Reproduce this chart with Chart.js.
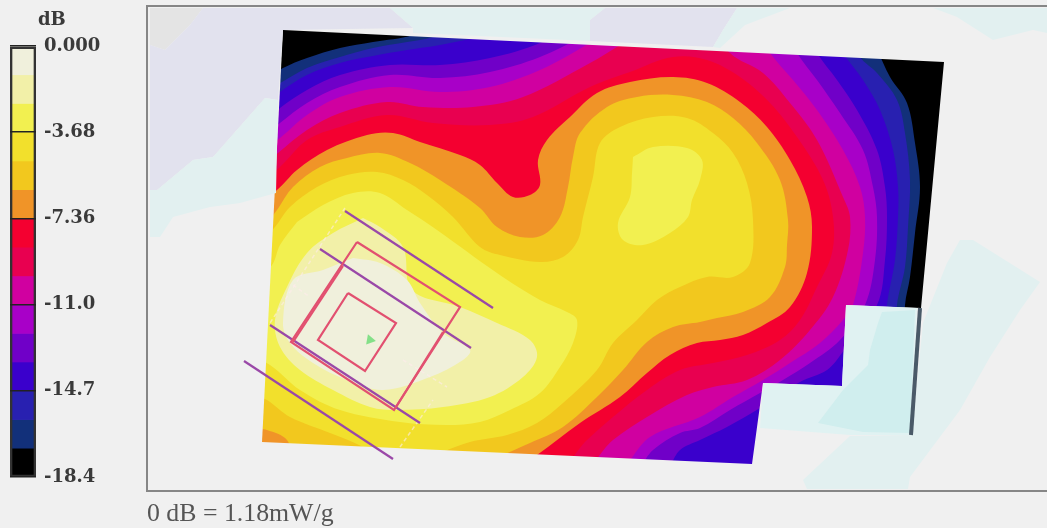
<!DOCTYPE html>
<html>
<head>
<meta charset="utf-8">
<script src="https://cdn.jsdelivr.net/npm/chart.js@4"></script>
<style>
  html, body { margin: 0; background: #f0f0f0; overflow: hidden; }
  canvas, .lbl { position: absolute; filter: blur(0.5px); }
  #sarChart { left: 0; top: 0; }
  #barChart { left: 0; top: 0; }
  .lbl { font-family: "Liberation Serif", serif; white-space: nowrap; }
  #unit { left: 38px; top: 8px; font-family: "DejaVu Serif", serif; font-weight: bold; font-size: 18px; color: #3a3a3a; }
  #note { left: 147px; top: 498px; font-size: 25.8px; color: #555; }
</style>
</head>
<body>
<canvas id="sarChart" width="1047" height="528"></canvas>
<canvas id="barChart" width="146" height="528"></canvas>
<div class="lbl" id="unit">dB</div>
<div class="lbl" id="note">0 dB = 1.18mW/g</div>
<script>
// colour scale, 15 steps of 18.4/15 dB
const levels = [0, -1.227, -2.453, -3.68, -4.907, -6.133, -7.36, -8.587, -9.813, -11.04, -12.27, -13.49, -14.72, -15.95, -17.17, -18.4];
const bandColors = ['#f0f0dc', '#f2f0a8', '#f2f050', '#f2e02c', '#f2c81e', '#f09428', '#f40030', '#e80050', '#d000a0', '#a800c8', '#7000c8', '#3a00cc', '#2820b0', '#12307a', '#000000'];
const tickValues = [0, -3.68, -7.36, -11.04, -14.72, -18.4];
const tickLabels = ['0.000', '-3.68', '-7.36', '-11.0', '-14.7', '-18.4'];

// iso-dB contours (x, y in plot units)
const c14 = [[147, 6], [1047, 6], [1047, 491], [147, 491], [147, 6]];
const c13 = [[240, 92], [283, 68], [307, 58], [340, 48], [373, 42], [413, 35], [440, 20], [860, 20], [877, 50], [890, 77], [907, 103], [915, 143], [920, 187], [915, 233], [910, 277], [905, 305], [900, 400], [880, 491], [200, 491], [240, 92]];
const c12 = [[240, 105], [282, 82], [307, 68], [340, 57], [373, 48], [407, 42], [433, 37], [470, 20], [840, 20], [860, 57], [877, 73], [897, 100], [905, 133], [910, 180], [908, 227], [905, 267], [897, 305], [890, 400], [870, 491], [200, 491], [240, 105]];
const c11 = [[240, 122], [280, 92], [307, 75], [340, 63], [373, 56], [407, 50], [440, 45], [490, 34], [530, 20], [825, 20], [843, 53], [863, 80], [880, 110], [893, 150], [898, 187], [898, 217], [895, 260], [887, 305], [880, 400], [860, 491], [200, 491], [240, 122]];
const c10 = [[240, 140], [280, 108], [307, 90], [340, 75], [390, 65], [440, 65], [490, 58], [540, 43], [580, 20], [800, 20], [817, 53], [837, 80], [857, 110], [877, 150], [885, 187], [887, 217], [885, 260], [877, 305], [842, 353], [827, 370], [800, 382], [760, 408], [727, 427], [700, 440], [680, 450], [660, 475], [200, 491], [240, 140]];
const c9 = [[240, 155], [280, 123], [307, 103], [340, 87], [390, 75], [440, 78], [490, 72], [540, 57], [590, 33], [620, 20], [780, 20], [797, 53], [817, 80], [840, 113], [863, 150], [873, 187], [877, 217], [875, 260], [865, 305], [840, 340], [810, 363], [783, 380], [760, 393], [730, 410], [700, 428], [680, 433], [653, 450], [625, 480], [200, 491], [240, 155]];
const c8 = [[240, 168], [280, 138], [307, 115], [340, 97], [390, 87], [440, 92], [490, 87], [540, 70], [590, 43], [630, 20], [750, 20], [770, 53], [793, 80], [817, 110], [843, 150], [860, 187], [865, 217], [863, 253], [853, 305], [843, 320], [820, 343], [790, 363], [763, 380], [733, 397], [700, 417], [650, 437], [610, 475], [200, 491], [240, 168]];
const c7 = [[240, 185], [278, 153], [307, 130], [340, 113], [387, 102], [423, 107], [473, 107], [523, 97], [590, 63], [620, 45], [660, 20], [710, 20], [730, 53], [763, 73], [790, 103], [817, 140], [843, 197], [850, 217], [848, 250], [833, 297], [810, 330], [780, 360], [747, 380], [713, 387], [687, 395], [647, 417], [613, 440], [575, 475], [200, 491], [240, 185]];
const c6 = [[240, 200], [280, 167], [307, 140], [340, 127], [387, 115], [433, 123], [490, 125], [533, 117], [590, 87], [630, 72], [673, 57], [707, 60], [740, 77], [770, 103], [797, 137], [823, 180], [833, 217], [832, 253], [817, 287], [800, 320], [780, 340], [747, 355], [713, 363], [680, 370], [647, 390], [613, 417], [587, 440], [555, 470], [200, 491], [240, 200]];
const c5 = [[230, 225], [277, 190], [297, 170], [327, 150], [367, 135], [393, 133], [420, 142], [460, 155], [480, 165], [497, 183], [513, 197], [530, 195], [540, 185], [538, 160], [547, 140], [570, 117], [597, 93], [630, 82], [673, 77], [707, 83], [740, 102], [767, 127], [790, 160], [807, 197], [812, 227], [807, 273], [790, 307], [767, 323], [743, 335], [720, 340], [697, 343], [670, 355], [647, 373], [620, 397], [580, 423], [537, 455], [500, 480], [200, 491], [230, 225]];
const c4 = [[250, 245], [277, 210], [293, 187], [320, 167], [347, 158], [380, 153], [410, 163], [440, 180], [480, 208], [497, 227], [520, 237], [543, 235], [560, 217], [568, 187], [573, 157], [580, 133], [607, 107], [637, 97], [673, 95], [707, 102], [733, 118], [757, 143], [780, 180], [788, 220], [787, 245], [785, 267], [770, 297], [743, 312], [717, 318], [700, 322], [673, 327], [647, 342], [623, 370], [597, 397], [563, 427], [530, 443], [503, 455], [460, 475], [300, 470], [287, 440], [267, 430], [245, 425], [250, 245]];
const c3 = [[250, 255], [275, 227], [290, 207], [317, 187], [347, 175], [377, 172], [403, 180], [427, 195], [453, 217], [480, 247], [500, 255], [540, 262], [563, 257], [578, 240], [583, 217], [593, 177], [600, 143], [620, 127], [653, 117], [687, 118], [713, 133], [733, 153], [747, 183], [753, 220], [750, 263], [733, 277], [707, 277], [680, 287], [657, 300], [637, 320], [613, 343], [597, 370], [563, 403], [537, 423], [507, 435], [470, 442], [420, 460], [390, 465], [363, 447], [330, 433], [290, 417], [267, 400], [245, 390], [250, 255]];
const c2a = [[297, 222], [323, 205], [353, 193], [380, 193], [407, 210], [437, 230], [497, 273], [540, 300], [567, 312], [577, 320], [573, 343], [560, 367], [540, 393], [510, 410], [480, 422], [447, 425], [400, 422], [340, 410], [300, 390], [270, 365], [240, 350], [240, 300], [272, 265], [280, 245], [297, 222]];
const c2b = [[633, 157], [653, 147], [687, 148], [702, 160], [700, 180], [692, 200], [688, 217], [670, 233], [643, 245], [623, 240], [618, 223], [630, 197], [632, 173], [633, 157]];
const c1 = [[363, 218], [333, 233], [307, 253], [287, 287], [275, 320], [280, 347], [300, 370], [333, 390], [370, 407], [397, 410], [443, 407], [490, 397], [523, 377], [537, 357], [530, 340], [497, 323], [460, 307], [412, 290], [403, 247], [380, 227], [363, 218]];
const c0 = [[353, 258], [323, 270], [293, 280], [283, 323], [290, 343], [313, 363], [347, 380], [383, 390], [430, 377], [463, 360], [470, 350], [443, 333], [420, 303], [407, 280], [380, 263], [353, 258]];

// area outside the scan
const outTop = [[147, 6], [1047, 6], [1047, 62], [944, 62], [283, 30], [147, 30], [147, 6]];
const outLeft = [[147, 6], [283, 30], [262, 442], [200, 491], [147, 491], [147, 6]];
const outBottom = [[147, 430], [262, 442], [752, 464], [763, 383], [842, 386], [846, 305], [921, 308], [1047, 300], [1047, 491], [147, 491], [147, 430]];
const outRight = [[944, 62], [944, 50], [1047, 50], [1047, 320], [921, 308], [944, 62]];

// faint surface patches behind the scan
const tintGrey = [[150, 8], [203, 8], [190, 25], [165, 50], [150, 45], [150, 8]];
const tintLav1 = [[150, 45], [165, 50], [190, 25], [203, 8], [390, 8], [413, 28], [283, 30], [278, 100], [265, 98], [213, 157], [193, 160], [157, 190], [150, 190], [150, 45]];
const tintLav2 = [[590, 20], [605, 8], [737, 8], [723, 30], [713, 47], [590, 41], [590, 20]];
const tintCyan1 = [[150, 190], [157, 190], [193, 160], [213, 157], [265, 98], [278, 100], [276, 193], [240, 203], [210, 207], [173, 217], [160, 237], [150, 237], [150, 190]];
const tintCyan2 = [[390, 8], [605, 8], [590, 20], [590, 41], [413, 33], [413, 28], [390, 8]];
const tintCyan3 = [[737, 8], [790, 8], [745, 25], [720, 48], [713, 47], [723, 30], [737, 8]];
const tintCyan4 = [[933, 8], [1047, 8], [1047, 33], [1033, 30], [993, 40], [957, 17], [933, 8]];
const tintCyan5 = [[960, 240], [973, 240], [1040, 282], [1020, 310], [990, 357], [960, 410], [910, 477], [908, 489], [807, 489], [803, 480], [850, 436], [912, 435], [923, 323], [947, 263], [960, 240]];
const notchLight = [[763, 383], [842, 386], [846, 305], [917, 308], [912, 435], [850, 435], [760, 428], [763, 383]];
const notchDark = [[882, 312], [915, 310], [910, 433], [863, 432], [818, 423], [843, 390], [868, 365], [870, 350], [878, 323], [882, 312]];
const probeEdge = [[920, 308], [911, 435]];

// dipole / phantom outline drawn over the map
const dipole1 = [[345, 211], [493, 308]];
const dipole2 = [[320, 249], [471, 348]];
const dipole3 = [[270, 325], [420, 423]];
const dipole4 = [[244, 361], [393, 459]];
const boxOuter = [[357, 242], [460, 307], [394, 410], [291, 342], [357, 242]];
const boxInner = [[348, 293], [396, 323], [365, 371], [318, 340], [348, 293]];
const boxMid = [[343, 266], [293, 342]];
const boxMid2 = [[443, 332], [396, 407]];
const paleA = [[293, 285], [310, 297]];
const paleB = [[403, 360], [447, 387]];
const paleC = [[400, 447], [433, 400]];
const paleD = [[345, 208], [270, 323]];
const peak = [[370, 340]];
const frameEdge = [[1047, 491], [147, 491], [147, 6], [1047, 6]];

const toPoints = pts => pts.map(p => ({ x: p[0], y: p[1] }));

const datasets = [];
function area(pts, color, tension) {
  datasets.push({ data: toPoints(pts), showLine: true, fill: 'shape', backgroundColor: color, borderWidth: 0, pointRadius: 0, tension: tension });
}
function line(pts, color, width, dash) {
  datasets.push({ data: toPoints(pts), showLine: true, fill: false, borderColor: color, borderWidth: width, borderDash: dash || [], pointRadius: 0, tension: 0, clip: false });
}

[c14, c13, c12, c11, c10, c9, c8, c7, c6, c5, c4, c3].forEach((c, i) => area(c, bandColors[14 - i], 0.35));
area(c2a, bandColors[2], 0.35);
area(c2b, bandColors[2], 0.35);
area(c1, bandColors[1], 0.35);
area(c0, bandColors[0], 0.35);

[outTop, outLeft, outBottom, outRight].forEach(c => area(c, '#f0f0f0', 0));
area(tintGrey, '#e4e4e4', 0);
[tintLav1, tintLav2].forEach(c => area(c, '#e2e2ee', 0));
[tintCyan1, tintCyan2, tintCyan3, tintCyan4, tintCyan5].forEach(c => area(c, '#e2f0f0', 0));
area(notchLight, '#e0f2f2', 0);
area(notchDark, '#d0eeee', 0);
line(probeEdge, '#4a5a68', 4);

[paleA, paleB, paleC, paleD].forEach(c => line(c, 'rgba(255,235,235,0.6)', 1.5, [4, 3]));
[dipole1, dipole2, dipole3, dipole4].forEach(c => line(c, '#9a48a8', 2.2));
[boxOuter, boxInner, boxMid, boxMid2].forEach(c => line(c, '#e25070', 2.2));
datasets.push({ data: toPoints(peak), pointStyle: 'triangle', pointRadius: 6, backgroundColor: '#84e088', borderWidth: 0, rotation: 100 });

line(frameEdge, '#868686', 2);

// Chart.js paints the first dataset last
datasets.reverse();

new Chart(document.getElementById('sarChart'), {
  type: 'scatter',
  data: { datasets: datasets },
  options: {
    responsive: false,
    animation: false,
    layout: { autoPadding: false, padding: { left: 147, top: 6, right: 0, bottom: 37 } },
    plugins: { legend: { display: false }, tooltip: { enabled: false } },
    scales: {
      x: { type: 'linear', min: 147, max: 1047, display: false },
      y: { type: 'linear', min: 6, max: 491, reverse: true, display: false }
    }
  }
});

// colour bar
const barSets = [{ data: [[-18.4, 0]], backgroundColor: 'rgba(0,0,0,0)', borderColor: '#333', borderWidth: 2, borderSkipped: false }];
bandColors.forEach((c, i) => barSets.push({ data: [[levels[i + 1], levels[i]]], backgroundColor: c }));

new Chart(document.getElementById('barChart'), {
  type: 'bar',
  data: { labels: ['dB'], datasets: barSets },
  options: {
    responsive: false,
    animation: false,
    layout: { autoPadding: false, padding: { left: 10, top: 46, bottom: 51, right: 0 } },
    datasets: { bar: { grouped: false, barPercentage: 1, categoryPercentage: 1 } },
    plugins: { legend: { display: false }, tooltip: { enabled: false } },
    scales: {
      x: { display: false },
      y: {
        position: 'right',
        min: -18.4,
        max: 0,
        afterBuildTicks: s => { s.ticks = tickValues.map(v => ({ value: v })); },
        afterFit: s => { s.width = 110; },
        grid: { color: '#222', lineWidth: 1.5, drawTicks: false, z: 1 },
        border: { display: false },
        ticks: {
          autoSkip: false,
          padding: 8,
          color: '#3a3a3a',
          font: { family: '"DejaVu Serif", serif', size: 18, weight: 'bold' },
          callback: v => tickLabels[tickValues.indexOf(v)]
        }
      }
    }
  }
});
</script>
</body>
</html>
